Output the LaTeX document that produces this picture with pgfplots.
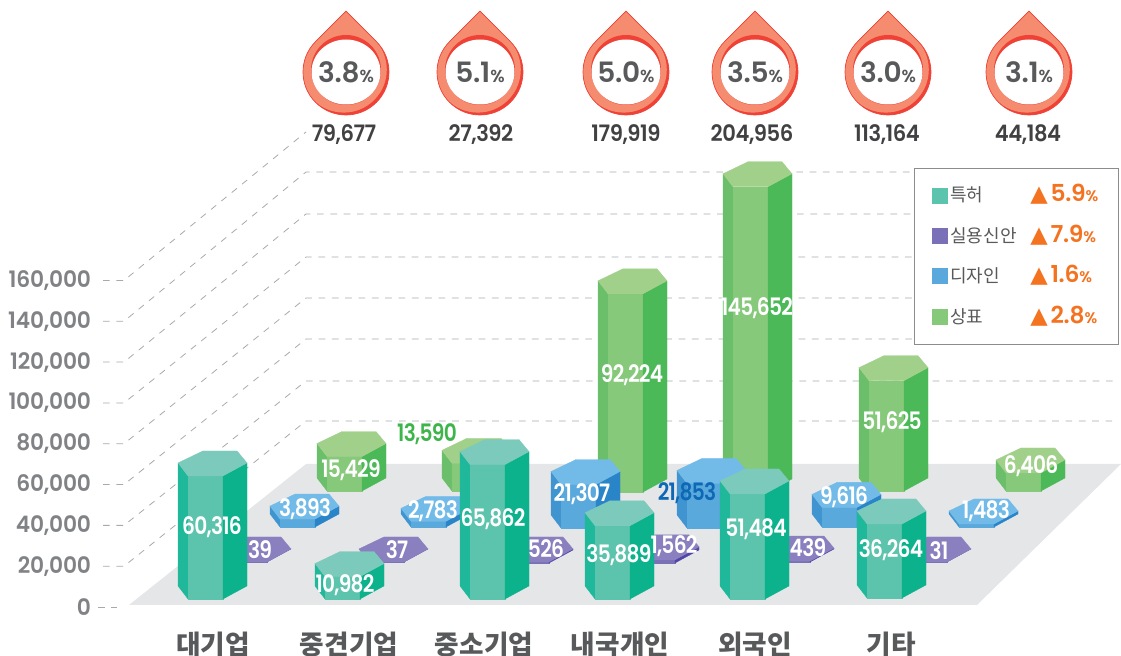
\documentclass[border=0pt]{standalone}
\usepackage{fontspec}
\usepackage{pgfplots}
\pgfplotsset{compat=1.18}
\setmainfont{Poppins}[UprightFont=* SemiBold,FakeStretch=0.84,LetterSpace=-3]
\newfontfamily\popw{Poppins}[UprightFont=* SemiBold,FakeStretch=1.0,LetterSpace=-1]
\newfontfamily\popy{Poppins}[UprightFont=* SemiBold,FakeStretch=0.96,LetterSpace=-1]
\newfontfamily\popt{Poppins}[UprightFont=* SemiBold,FakeStretch=0.93,LetterSpace=-2]
\newfontfamily\kr{Noto Sans CJK KR}
\newfontfamily\sym{DejaVu Sans}
\definecolor{tealT}{HTML}{7CCABB}\definecolor{tealL}{HTML}{20B89A}\definecolor{tealF}{HTML}{5CC3AC}\definecolor{tealR}{HTML}{0BB28C}
\definecolor{greenT}{HTML}{A0D08A}\definecolor{greenL}{HTML}{6BBF6A}\definecolor{greenF}{HTML}{87C97A}\definecolor{greenR}{HTML}{4BB958}
\definecolor{blueT}{HTML}{72BBE9}\definecolor{blueL}{HTML}{4095D0}\definecolor{blueF}{HTML}{5AA9DC}\definecolor{blueR}{HTML}{2984C8}
\definecolor{purpT}{HTML}{8A80BF}\definecolor{purpL}{HTML}{7068B4}\definecolor{purpF}{HTML}{7A70B8}\definecolor{purpR}{HTML}{5046A5}
\definecolor{floorc}{HTML}{E5E6E8}\definecolor{gridc}{HTML}{A7A9AC}
\definecolor{tickc}{HTML}{808285}\definecolor{catc}{HTML}{58595B}\definecolor{totc}{HTML}{414042}
\definecolor{salmon}{HTML}{F68C6F}\definecolor{dropred}{HTML}{EF4136}\definecolor{orng}{HTML}{F47321}
\definecolor{dblue}{HTML}{0D68B5}\definecolor{lgreen}{HTML}{3DB54A}

% one hexagonal prism: left x, base pixel row of its front face, value, height correction in px, colour name
\newcommand\prism[5]{%
 \edef\B{\fpeval{(607-#2)*490}}%
 \edef\T{\fpeval{\B+#3+#4*490}}%
 \edef\Tm{\fpeval{\T+13*490}}\edef\Tb{\fpeval{\T+25*490}}\edef\Bm{\fpeval{\B+13*490}}%
 \edef\xa{\fpeval{#1+10}}\edef\xb{\fpeval{#1+45}}\edef\xc{\fpeval{#1+69}}\edef\xd{\fpeval{#1+59}}\edef\xe{\fpeval{#1+25}}%
 \edef\tmp{\noexpand\addplot[forget plot,fill=#5L,draw=#5L,line width=.2pt] coordinates {(#1,\Tm)(\xa,\T)(\xa,\B)(#1,\Bm)} -- cycle;
  \noexpand\addplot[forget plot,fill=#5F,draw=#5F,line width=.2pt] coordinates {(\xa,\T)(\xb,\T)(\xb,\B)(\xa,\B)} -- cycle;
  \noexpand\addplot[forget plot,fill=#5R,draw=#5R,line width=.2pt] coordinates {(\xb,\T)(\xc,\Tm)(\xc,\Bm)(\xb,\B)} -- cycle;
  \noexpand\addplot[forget plot,fill=#5T,draw=#5T,line width=.2pt] coordinates {(#1,\Tm)(\xa,\T)(\xb,\T)(\xc,\Tm)(\xd,\Tb)(\xe,\Tb)} -- cycle;}%
 \tmp}
\newcommand\lab[4][white]{%
 \edef\tmp{\noexpand\node[text=#1,inner sep=0pt,font=\noexpand\fontsize{18}{18}\noexpand\selectfont] at (axis cs:#2,\fpeval{(607-#3)*490}) {#4};}%
 \tmp}
\newcommand\vl[3]{\lab{#1}{#2}{#3}}
\newcommand\legtxt[2]{\makebox[60pt][l]{\kr\textcolor{catc}{#1}}\smash{\sym\fontsize{17}{17}\selectfont\textcolor{orng}{▲}}\hspace{2pt}\smash{\textcolor{orng}{\popw\fontsize{17.5}{17.5}\selectfont #2{\fontsize{11.5}{11.5}\selectfont\%}}}}
\newcommand\drop[5]{%
 \begin{scope}[x=0.75pt,y=0.75pt,shift={(#1*0.75pt,{(656-#2)*0.75pt})}]
  \fill[dropred] (0,60.8)--(30.4,30.4) arc[start angle=45,end angle=-225,radius=43]--cycle;
  \begin{scope}
   \clip (0,60.8)--(30.4,30.4) arc[start angle=45,end angle=-225,radius=43]--cycle;
   \fill[salmon,shift={(-2.2,2.4)}] (0,60.8)--(30.4,30.4) arc[start angle=45,end angle=-225,radius=43]--cycle;
  \end{scope}
  \draw[dropred,line width=.5pt] (0,60.8)--(30.4,30.4) arc[start angle=45,end angle=-225,radius=43]--cycle;
  \fill[dropred] (0,2) ellipse[x radius=35,y radius=35];
  \fill[white] (0,0) ellipse[x radius=34.5,y radius=32.5];
  \node[text=catc,inner sep=0pt] at (0,-0.5) {\popw\fontsize{21}{21}\selectfont #3{\fontsize{13}{13}\selectfont\%}};
  \pgfmathsetmacro\totx{#4-#1}
  \node[text=totc,inner sep=0pt] at (\totx,-62.5) {\popt\fontsize{17}{17}\selectfont #5};
 \end{scope}}
\begin{document}
\begin{tikzpicture}
\path[use as bounding box] (0,0) rectangle (840.75pt,492pt);
\begin{axis}[
 at={(0,0)},anchor=south west,scale only axis,width=840.75pt,height=492pt,
 xmin=0,xmax=1121,ymin=-24010,ymax=297430,clip=false,
 axis x line=bottom,axis y line=left,
 axis line style={draw=none,-},
 tick style={draw=none},
 /pgf/number format/assume math mode=true,
 /pgf/number format/fixed,
 /pgf/number format/1000 sep={,},
 xtick={213,349,484,620,755,891},
 xticklabels={대기업,중견기업,중소기업,내국개인,외국인,기타},
 x tick label style={font=\kr\bfseries\fontsize{20}{20}\selectfont,text=catc,anchor=center,yshift=11pt,inner sep=0pt},
 ytick={0,20000,40000,60000,80000,100000,120000,140000,160000},
 y tick label style={font=\popy\fontsize{17}{17}\selectfont,text=tickc,xshift=70.5pt,inner sep=0pt,anchor=east},
 scaled y ticks=false,
 legend cell align=left,
 legend style={at={(axis cs:914,215110)},anchor=north west,draw=gray!90,line width=.6pt,fill=white,
   inner xsep=13pt,inner ysep=12pt,row sep=13.7pt,font=\fontsize{13.5}{15}\selectfont},
 legend image code/.code={\fill[#1] (0pt,-6pt) rectangle (12pt,6pt);},
]
% floor
\addplot[forget plot,fill=floorc,draw=none] coordinates {(129,980)(977,980)(1121,70070)(306,70070)} -- cycle;
% receding grid lines
\pgfplotsset{griddash/.style={forget plot,draw=gridc,line width=.6pt,dash pattern=on 5pt off 5pt}}
\addplot[griddash] coordinates {(98,0)(117,0)};
\addplot[griddash] coordinates {(103,20000)(124,20000)(306,91140)(1113,91140)};
\addplot[griddash] coordinates {(103,40000)(124,40000)(306,110740)(1113,110740)};
\addplot[griddash] coordinates {(103,60000)(124,60000)(306,131320)(1113,131320)};
\addplot[griddash] coordinates {(103,80000)(124,80000)(306,151410)(1113,151410)};
\addplot[griddash] coordinates {(103,100000)(124,100000)(306,171500)(1113,171500)};
\addplot[griddash] coordinates {(103,120000)(124,120000)(306,192570)(1113,192570)};
\addplot[griddash] coordinates {(103,140000)(124,140000)(306,213150)(1113,213150)};
\addplot[griddash] coordinates {(103,160000)(124,160000)(306,232750)};
% trademark
\prism{317}{491}{15429}{3}{green}
\prism{442}{491}{13590}{0}{green}
\prism{598}{492}{92224}{10}{green}
\prism{723}{492}{145652}{8}{green}
\prism{859}{491}{51625}{5}{green}
\prism{996}{491}{6406}{5}{green}
% design
\prism{270}{527}{3893}{0}{blue}
\prism{401}{527}{2783}{0}{blue}
\prism{551}{528}{21307}{0}{blue}
\prism{677}{528}{21853}{0}{blue}
\prism{812}{527}{9616}{0}{blue}
\prism{949}{527}{1483}{0}{blue}
% utility model
\prism{222}{562}{39}{0}{purp}
\prism{359}{562}{37}{0}{purp}
\prism{504}{563}{526}{0}{purp}
\prism{630}{563}{1562}{0}{purp}
\prism{765}{562}{439}{0}{purp}
\prism{902}{562}{31}{0}{purp}
% patent
\prism{178}{599}{60316}{0}{teal}
\prism{315}{599}{10982}{0}{teal}
\prism{460}{599}{65862}{0}{teal}
\prism{585}{599}{35889}{0}{teal}
\prism{720}{599}{51484}{0}{teal}
\prism{857}{598}{36264}{0}{teal}
% value labels
\vl{212}{527}{60,316}\vl{345}{585}{10,982}\vl{493}{519}{65,862}\vl{619}{555}{35,889}\vl{756}{529}{51,484}\vl{891}{550}{36,264}
\vl{260}{550}{39}\vl{397}{550}{37}\vl{546}{549}{526}\vl{674}{546}{1,562}\vl{808}{548}{439}\vl{939}{551}{31}
\vl{305}{509}{3,893}\vl{433}{511}{2,783}\vl{582}{494}{21,307}\vl{844}{497}{9,616}\vl{986}{511}{1,483}
\vl{351}{470}{15,429}\vl{632}{375}{92,224}\vl{757}{308}{145,652}\vl{892}{422}{51,625}\vl{1031}{466}{6,406}
\lab[dblue]{687}{493}{21,853}
\lab[lgreen]{427}{434}{13,590}
% legend
\addlegendimage{fill=tealF,draw=none}\addlegendentry{\legtxt{특허}{5.9}}
\addlegendimage{fill=purpF,draw=none}\addlegendentry{\legtxt{실용신안}{7.9}}
\addlegendimage{fill=blueF,draw=none}\addlegendentry{\legtxt{디자인}{1.6}}
\addlegendimage{fill=greenF,draw=none}\addlegendentry{\legtxt{상표}{2.8}}
\end{axis}
\drop{346}{72}{3.8}{344}{79,677}
\drop{480}{72}{5.1}{481}{27,392}
\drop{626}{72}{5.0}{626}{179,919}
\drop{755}{72}{3.5}{752}{204,956}
\drop{888}{72}{3.0}{887}{113,164}
\drop{1029}{72}{3.1}{1028}{44,184}
\end{tikzpicture}
\end{document}
